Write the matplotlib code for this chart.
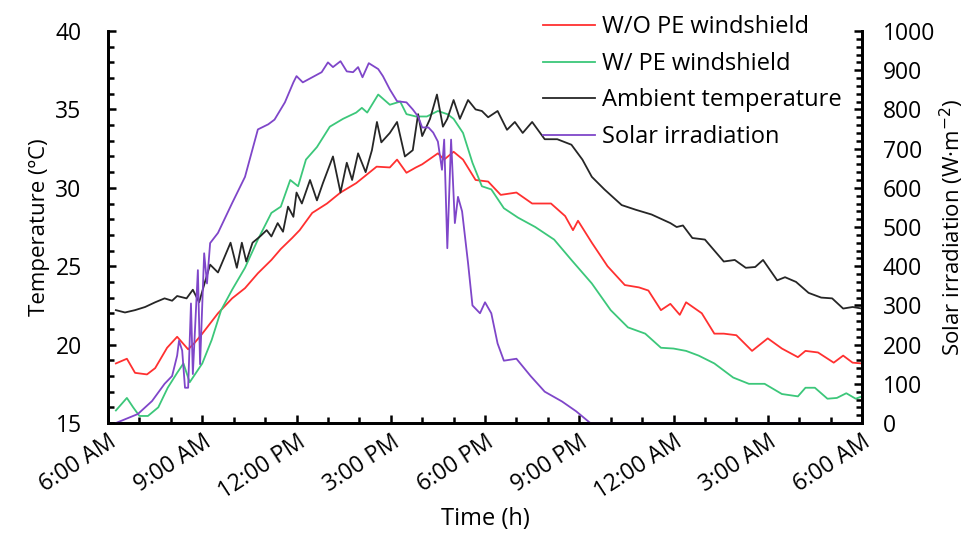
import matplotlib
matplotlib.use("Agg")
import matplotlib.pyplot as plt
from matplotlib.ticker import MultipleLocator, FixedLocator, FixedFormatter

plt.rcParams['font.family'] = ['Open Sans', 'DejaVu Sans']

# time in hours after 6:00 AM
tick_hours = [0, 3, 6, 9, 12, 15, 18, 21, 24]
tick_labels = ['6:00 AM', '9:00 AM', '12:00 PM', '3:00 PM', '6:00 PM',
               '9:00 PM', '12:00 AM', '3:00 AM', '6:00 AM']

# W/O PE windshield (ºC)
h_wo = [0.25, 0.6, 0.86, 1.24, 1.5, 1.88, 2.2, 2.55, 2.75, 3.0, 3.5, 3.95, 4.36, 4.77,
        5.2, 5.5, 5.86, 6.1, 6.5, 6.97, 7.4, 7.9, 8.55, 8.97, 9.2, 9.5, 9.8, 10.0,
        10.5, 10.7, 11.0, 11.3, 11.7, 12.1, 12.5, 13.0, 13.5, 14.1, 14.55, 14.8,
        14.96, 15.4, 15.9, 16.45, 16.9, 17.2, 17.6, 17.9, 18.2, 18.4, 18.9, 19.3,
        19.6, 20.0, 20.5, 21.0, 21.45, 21.96, 22.2, 22.6, 23.1, 23.4, 23.7, 24.0]
t_wo = [18.8, 19.1, 18.2, 18.1, 18.5, 19.8, 20.5, 19.7, 20.1, 20.7, 22.0, 22.95, 23.6,
        24.55, 25.4, 26.1, 26.8, 27.3, 28.4, 29.0, 29.7, 30.3, 31.35, 31.3, 31.8,
        30.96, 31.3, 31.5, 32.2, 31.8, 32.3, 31.8, 30.5, 30.4, 29.55, 29.7, 29.0,
        29.0, 28.2, 27.3, 27.9, 26.5, 25.0, 23.8, 23.65, 23.45, 22.2, 22.6, 21.9,
        22.7, 22.0, 20.7, 20.7, 20.6, 19.6, 20.4, 19.75, 19.2, 19.6, 19.5, 18.85,
        19.3, 18.85, 18.8]

# W/ PE windshield (ºC)
h_w = [0.25, 0.6, 0.8, 1.0, 1.27, 1.6, 1.9, 2.2, 2.4, 2.6, 3.0, 3.3, 3.6, 3.95, 4.36,
       4.77, 5.2, 5.5, 5.8, 6.05, 6.3, 6.65, 7.06, 7.48, 7.9, 8.08, 8.25, 8.6, 8.97,
       9.3, 9.5, 9.8, 10.15, 10.5, 10.8, 11.0, 11.3, 11.6, 11.9, 12.2, 12.6, 13.05,
       13.6, 14.2, 14.75, 15.4, 16.0, 16.55, 17.1, 17.6, 18.0, 18.4, 18.8, 19.3,
       19.9, 20.4, 20.9, 21.45, 21.96, 22.2, 22.5, 22.9, 23.2, 23.5, 23.8, 24.0]
t_w = [15.8, 16.6, 16.0, 15.45, 15.45, 16.0, 17.25, 18.2, 18.8, 17.6, 18.8, 20.3,
       22.2, 23.5, 24.9, 26.7, 28.4, 28.8, 30.5, 30.1, 31.8, 32.6, 33.9, 34.4, 34.8,
       35.1, 34.8, 35.95, 35.3, 35.5, 34.7, 34.55, 34.55, 34.9, 34.7, 34.4, 33.5,
       31.6, 30.1, 29.9, 28.7, 28.1, 27.5, 26.7, 25.4, 23.9, 22.2, 21.1, 20.7, 19.8,
       19.75, 19.6, 19.3, 18.8, 17.9, 17.5, 17.5, 16.85, 16.7, 17.25, 17.25, 16.55,
       16.6, 16.9, 16.55, 16.7]

# Ambient temperature (ºC)
h_amb = [0.25, 0.54, 0.86, 1.18, 1.5, 1.8, 2.04, 2.2, 2.5, 2.7, 2.9, 3.1, 3.25, 3.5,
         3.9, 4.1, 4.26, 4.4, 4.6, 4.84, 5.05, 5.2, 5.4, 5.57, 5.73, 5.9, 6.0, 6.17,
         6.43, 6.65, 6.84, 7.16, 7.4, 7.6, 7.77, 7.96, 8.2, 8.4, 8.56, 8.7, 8.97, 9.2,
         9.45, 9.7, 9.87, 10.0, 10.25, 10.47, 10.66, 10.8, 11.0, 11.2, 11.46, 11.7,
         11.9, 12.1, 12.4, 12.7, 12.95, 13.2, 13.5, 13.9, 14.3, 14.75, 15.1, 15.4,
         15.8, 16.35, 16.8, 17.3, 17.9, 18.1, 18.3, 18.6, 19.0, 19.3, 19.6, 19.95,
         20.3, 20.6, 20.85, 21.3, 21.55, 21.9, 22.3, 22.7, 23.05, 23.4, 23.7, 24.0]
t_amb = [22.2, 22.05, 22.2, 22.4, 22.7, 22.95, 22.8, 23.1, 22.95, 23.5, 22.7, 24.1,
         25.1, 24.6, 26.5, 24.9, 26.5, 25.3, 26.5, 26.9, 27.3, 26.9, 27.75, 27.2,
         28.8, 28.15, 29.7, 29.0, 30.5, 29.2, 30.3, 32.0, 29.7, 31.6, 30.5, 32.2,
         31.0, 32.4, 34.2, 32.9, 33.5, 34.2, 32.0, 32.4, 34.7, 33.3, 34.4, 35.95,
         33.9, 34.4, 35.6, 34.4, 35.6, 35.0, 34.9, 34.5, 34.9, 33.7, 34.2, 33.5,
         34.2, 33.1, 33.1, 32.75, 31.8, 30.7, 29.9, 28.9, 28.6, 28.3, 27.75, 27.5,
         27.6, 26.8, 26.7, 26.0, 25.3, 25.4, 24.9, 24.95, 25.4, 24.1, 24.3, 24.0,
         23.3, 23.0, 22.95, 22.3, 22.4, 22.3]

# Solar irradiation (W/m2)
h_sol = [0.25, 0.95, 1.4, 1.8, 2.04, 2.2, 2.26, 2.36, 2.45, 2.55, 2.64, 2.7, 2.86,
         2.93, 3.06, 3.15, 3.25, 3.5, 3.95, 4.36, 4.77, 5.1, 5.3, 5.63, 5.9, 6.0,
         6.2, 6.5, 6.8, 7.0, 7.16, 7.4, 7.6, 7.8, 7.96, 8.1, 8.3, 8.6, 8.75, 8.97,
         9.2, 9.5, 9.7, 9.87, 10.0, 10.2, 10.35, 10.5, 10.63, 10.7, 10.8, 10.92,
         11.04, 11.14, 11.27, 11.46, 11.6, 11.84, 12.0, 12.2, 12.4, 12.6, 13.0, 13.45,
         13.9, 14.45, 14.9, 15.35, 24.0]
s_sol = [0, 23, 56, 100, 120, 172, 210, 185, 90, 90, 305, 125, 390, 150, 433, 356,
         459, 485, 561, 628, 749, 762, 774, 818, 869, 885, 869, 882, 895, 920, 908,
         923, 897, 895, 908, 882, 918, 903, 885, 851, 821, 818, 800, 782, 754, 754,
         741, 718, 646, 723, 446, 723, 510, 577, 540, 408, 300, 280, 308, 280, 203,
         159, 164, 120, 80, 55, 30, 0, 0]

fig = plt.figure(figsize=(9.68, 5.35), dpi=100)
ax = fig.add_axes([0.1116, 0.2093, 0.7789, 0.7327])
ax2 = ax.twinx()

l1, = ax.plot(h_wo, t_wo, color='#ff3030', lw=1.3, label='W/O PE windshield')
l2, = ax.plot(h_w, t_w, color='#3cc77a', lw=1.3, label='W/ PE windshield')
l3, = ax.plot(h_amb, t_amb, color='#262626', lw=1.3, label='Ambient temperature')
l4, = ax2.plot(h_sol, s_sol, color='#7f46c9', lw=1.3, label='Solar irradiation')

ax.set_xlim(0, 24)
ax.set_ylim(15, 40)
ax2.set_ylim(0, 1000)

ax.xaxis.set_major_locator(FixedLocator(tick_hours))
ax.xaxis.set_major_formatter(FixedFormatter(tick_labels))
ax.xaxis.set_minor_locator(MultipleLocator(1))
ax.yaxis.set_major_locator(MultipleLocator(5))
ax.yaxis.set_minor_locator(MultipleLocator(1))
ax2.yaxis.set_major_locator(MultipleLocator(100))
ax2.yaxis.set_minor_locator(MultipleLocator(20))

for a in (ax, ax2):
    a.spines['top'].set_visible(False)
    for s in ('left', 'right', 'bottom'):
        a.spines[s].set_linewidth(2)
    a.tick_params(which='major', direction='in', length=6, width=1.8, labelsize=16.5)
    a.tick_params(which='minor', direction='in', length=4, width=1.8)
ax.tick_params(axis='y', which='major', pad=19)
ax2.tick_params(axis='y', which='major', pad=15)
ax.tick_params(axis='x', which='major', labelsize=16.5, pad=5)
plt.setp(ax.get_xticklabels(), rotation=33, ha='right', rotation_mode='anchor')

ax.set_xlabel('Time (h)', fontsize=17, labelpad=2)
ax.set_ylabel('Temperature (ºC)', fontsize=16, labelpad=4)
ax2.set_ylabel('Solar irradiation (W·m$^{-2}$)', fontsize=16, labelpad=2)

ax.legend(handles=[l1, l2, l3, l4], loc='upper left', bbox_to_anchor=(0.577, 1.04),
          frameon=False, fontsize=17, handlelength=2.2, handletextpad=0.3,
          labelspacing=0.53, borderpad=0, borderaxespad=0)

fig.savefig('out.png', dpi=100)
